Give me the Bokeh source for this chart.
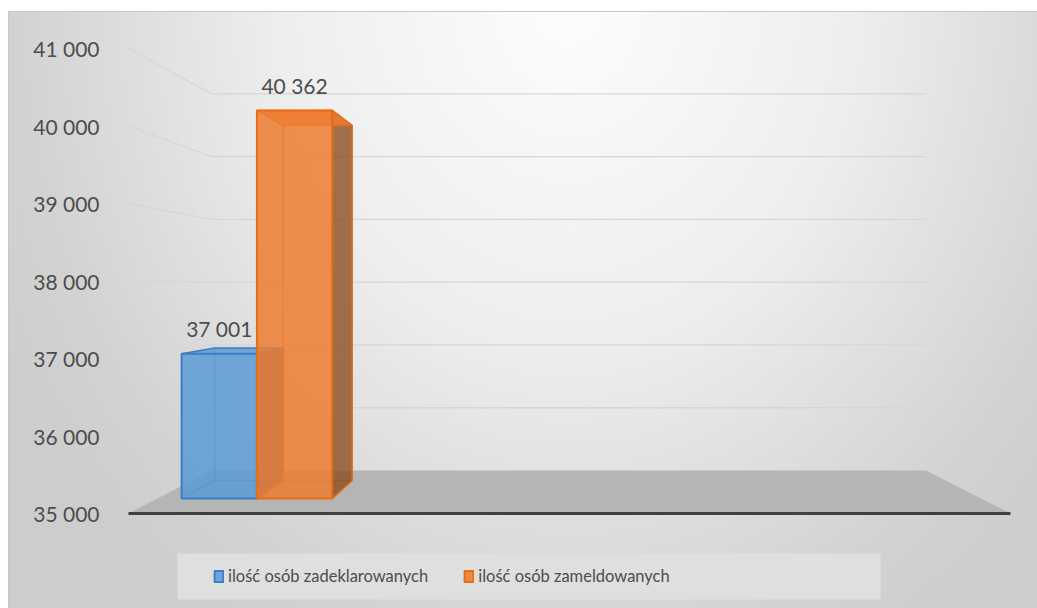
from bokeh.plotting import figure
from bokeh.models import Range1d, FixedTicker, LinearAxis, Legend, LegendItem
from bokeh.embed import file_html
from bokeh.resources import INLINE
from bokeh.core.properties import value

# ---------------- data ----------------
series_names = ["ilość osób zadeklarowanych", "ilość osób zameldowanych"]
series_values = [37001, 40362]
y_ticks = [35000, 36000, 37000, 38000, 39000, 40000, 41000]


def fmt(v):
    return f"{int(v):,}".replace(",", " ")


y_tick_labels = [fmt(t) for t in y_ticks]
data_labels = [fmt(v) for v in series_values]

# ---------------- style ----------------
fill_colors = ["#5b9bd5", "#ed7d31"]
edge_colors = ["#3a7fc6", "#e86c12"]
side_colors = ["#2c5f92", "#8a4a1c"]
text_color = "#4d4d4d"
FONT = "Lato"

# ---------------- geometry (page pixels) ----------------
FIG_W, FIG_H = 1037, 608
FIG_X, FIG_Y = 0, 0
BORDER_L = 120
BASE_PY = 513.0          # page y of the axis minimum on the front plane
PX_PER_UNIT = 0.0775     # pixels per unit on the front plane
Y_MIN = y_ticks[0]
VX, VY = 565.0, 286.8    # vanishing point
S_BACK = 0.81            # scale of the back wall
S_BAR_F, S_BAR_B = 0.934, 0.854   # depth of bar front / back faces
WALL_L, WALL_R = 128.0, 1010.0
BAR_X0, BAR_W = 154.0, 80.6


def val_of_py(py):
    return Y_MIN + (BASE_PY - py) / PX_PER_UNIT


def py_of_val(v):
    return BASE_PY - (v - Y_MIN) * PX_PER_UNIT


def proj(fx, v, s):
    px = VX + s * (fx - VX)
    py = VY + s * (py_of_val(v) - VY)
    return px, val_of_py(py)


p = figure(
    width=FIG_W, height=FIG_H,
    output_backend="svg", toolbar_location=None,
    x_range=Range1d(FIG_X + BORDER_L, FIG_X + FIG_W),
    y_range=Range1d(val_of_py(FIG_Y + FIG_H), val_of_py(FIG_Y)),
    x_axis_location=None, y_axis_location=None,
    min_border_left=BORDER_L, min_border_right=0,
    min_border_top=0, min_border_bottom=0,
    background_fill_color=None, border_fill_color=None,
    outline_line_color=None,
)
p.xgrid.visible = False
p.ygrid.visible = False
p.styles = {
    "background": (
        "linear-gradient(#ffffff,#ffffff) 0 0 / 100% 11px no-repeat, "
        "linear-gradient(#ffffff,#ffffff) 0 0 / 8px 100% no-repeat, "
        "linear-gradient(#c8c8c8,#c8c8c8) 8px 11px / 100% 1px no-repeat, "
        "linear-gradient(#c8c8c8,#c8c8c8) 8px 11px / 1px 100% no-repeat, "
        "radial-gradient(ellipse 640px 760px at 568px 0px, #fdfdfd 0%, #eeeeee 45%, #d3d3d3 85%, #cdcdcd 100%)"
    ),
}

yaxis = LinearAxis(
    ticker=FixedTicker(ticks=y_ticks),
    major_label_overrides={t: lab for t, lab in zip(y_ticks, y_tick_labels)},
    axis_line_color=None, major_tick_line_color=None, minor_tick_line_color=None,
    major_label_text_font=FONT, major_label_text_font_size="21px",
    major_label_text_color=text_color, major_label_standoff=15,
)
p.add_layout(yaxis, "left")

# ---------------- walls ----------------
gx, gy = [], []
for v in y_ticks[1:]:
    a = proj(WALL_L, v, 1.0)
    b = proj(WALL_L, v, S_BACK)
    c = proj(WALL_R, v, S_BACK)
    gx += [[a[0], b[0]], [b[0], c[0]]]
    gy += [[a[1], b[1]], [b[1], c[1]]]
p.multi_line(gx, gy, line_color="#d6d6d6", line_width=1.3)

# floor
fl = [proj(WALL_L, Y_MIN, 1.0), proj(WALL_R, Y_MIN, 1.0),
      proj(WALL_R, Y_MIN, S_BACK), proj(WALL_L, Y_MIN, S_BACK)]
p.patch([q[0] for q in fl], [q[1] for q in fl], fill_color="#b5b5b5", line_color=None)
p.line([fl[0][0], fl[1][0]], [fl[0][1], fl[1][1]], line_color="#404040", line_width=3)

# legend box
p.quad(left=177, right=880, top=val_of_py(553), bottom=val_of_py(599),
       fill_color="#dfdfdf", line_color=None)

# ---------------- bars ----------------
front_renderers = []
lab_x, lab_y = [], []
for i, v in enumerate(series_values):
    xl = BAR_X0 + i * BAR_W
    xr = xl + BAR_W
    FLB, FRB = proj(xl, Y_MIN, S_BAR_F), proj(xr, Y_MIN, S_BAR_F)
    FLT, FRT = proj(xl, v, S_BAR_F), proj(xr, v, S_BAR_F)
    BLB, BRB = proj(xl, Y_MIN, S_BAR_B), proj(xr, Y_MIN, S_BAR_B)
    BLT, BRT = proj(xl, v, S_BAR_B), proj(xr, v, S_BAR_B)
    ec = edge_colors[i]
    # hidden back edges, seen through the transparent faces
    p.multi_line(
        [[BLB[0], BLT[0]], [BLB[0], BRB[0]], [FLB[0], BLB[0]]],
        [[BLB[1], BLT[1]], [BLB[1], BRB[1]], [FLB[1], BLB[1]]],
        line_color=ec, line_width=1.5, line_alpha=0.7,
    )
    # right side face
    p.patch([FRB[0], BRB[0], BRT[0], FRT[0]], [FRB[1], BRB[1], BRT[1], FRT[1]],
            fill_color=side_colors[i], fill_alpha=0.78, line_color=ec, line_width=1.5)
    # top face
    p.patch([FLT[0], FRT[0], BRT[0], BLT[0]], [FLT[1], FRT[1], BRT[1], BLT[1]],
            fill_color=fill_colors[i], fill_alpha=0.85, line_color=ec, line_width=1.5)
    # front face
    r = p.quad(left=FLB[0], right=FRB[0], bottom=FLB[1], top=FLT[1],
               fill_color=fill_colors[i], fill_alpha=0.85, line_color=ec, line_width=2)
    front_renderers.append(r)
    lab_x.append((FLT[0] + FRT[0]) / 2)
    lab_y.append(FLT[1])

p.text(x=lab_x, y=lab_y, text=data_labels, text_align="center", text_baseline="middle",
       y_offset=-25, text_font=value(FONT), text_font_size="21px", text_color=text_color)

legend = Legend(
    items=[LegendItem(label=n, renderers=[r]) for n, r in zip(series_names, front_renderers)],
    location=(93, 22), orientation="horizontal",
    glyph_width=11, glyph_height=14, label_standoff=4, spacing=35,
    padding=0, margin=0, label_height=20,
    label_text_font=FONT, label_text_font_size="16.5px", label_text_color=text_color,
    background_fill_alpha=0, border_line_color=None,
)
p.add_layout(legend)

open("out.html", "w").write(file_html(p, INLINE))
